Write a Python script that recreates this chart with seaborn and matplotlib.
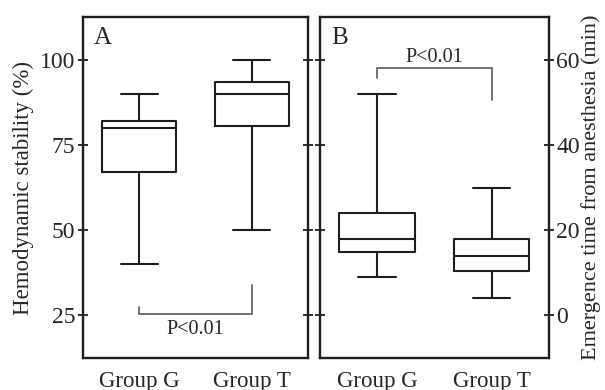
import numpy as np
import pandas as pd
import matplotlib
matplotlib.use("Agg")
import matplotlib.pyplot as plt
import seaborn as sns

# five-number summaries: whisker low, Q1, median, Q3, whisker high
groups = ["Group G", "Group T"]
stability_g = [40, 67, 80, 82, 90]
stability_t = [50, 80.5, 90, 93.5, 100]
emergence_g = [9, 15, 18, 24, 52]
emergence_t = [4, 10.5, 14, 18, 30]

stab_ticks = [25, 50, 75, 100]
emer_ticks = [0, 20, 40, 60]

sns.set_style("ticks")
plt.rcParams["font.family"] = ["Liberation Serif", "DejaVu Serif"]

INK = "#1e1e1e"
GREY = "#5a5a5a"


def to_frame(g_vals, t_vals):
    return pd.DataFrame({
        "group": [groups[0]] * len(g_vals) + [groups[1]] * len(t_vals),
        "value": list(g_vals) + list(t_vals),
    })


def draw_panel(ax, df, ylim, ticks, label, ylabel, side):
    # n=5 per group, so the quartiles land exactly on the listed values
    sns.boxplot(data=df, x="group", y="value", ax=ax, whis=np.inf,
                width=0.66, fill=False, color=INK, linewidth=1.5,
                capwidths=0.33)
    ax.set_xlim(-0.5, 1.5)
    ax.set_ylim(*ylim)
    ax.set_yticks(ticks)
    ax.set_xlabel("")
    for sp in ax.spines.values():
        sp.set_visible(True)
        sp.set_linewidth(1.7)
        sp.set_color(INK)
    ax.tick_params(axis="y", left=True, right=True, direction="inout",
                   length=7, width=1.3, color=INK, labelsize=17, pad=2,
                   labelleft=(side == "left"), labelright=(side == "right"))
    ax.tick_params(axis="x", length=0, labelsize=16.5, pad=9)
    if side == "right":
        ax.yaxis.set_label_position("right")
        ax.set_ylabel(ylabel, fontsize=16, labelpad=1)
    else:
        ax.set_ylabel(ylabel, fontsize=16.5)
    ax.text(0.05, 0.97, label, transform=ax.transAxes, fontsize=18,
            ha="left", va="top")


fig = plt.figure(figsize=(6.05, 3.9), dpi=100)
ax_a = fig.add_axes([0.137, 0.082, 0.372, 0.874])
ax_b = fig.add_axes([0.529, 0.082, 0.378, 0.874])

draw_panel(ax_a, to_frame(stability_g, stability_t), (12.5, 112.5),
           stab_ticks, "A", "Hemodynamic stability (%)", "left")
draw_panel(ax_b, to_frame(emergence_g, emergence_t), (-10, 70),
           emer_ticks, "B", "Emergence time from anesthesia (min)", "right")

# significance brackets
ax_a.plot([0, 0, 1, 1], [27.6, 25.3, 25.3, 34], color=GREY, lw=1.2)
ax_a.text(0.5, 23.6, "P<0.01", ha="center", va="top", fontsize=14.5)

ax_b.plot([0, 0, 1, 1], [55.7, 58, 58, 50.6], color=GREY, lw=1.2)
ax_b.text(0.5, 60.6, "P<0.01", ha="center", va="center", fontsize=14.5)

fig.savefig("out.png", dpi=100)
